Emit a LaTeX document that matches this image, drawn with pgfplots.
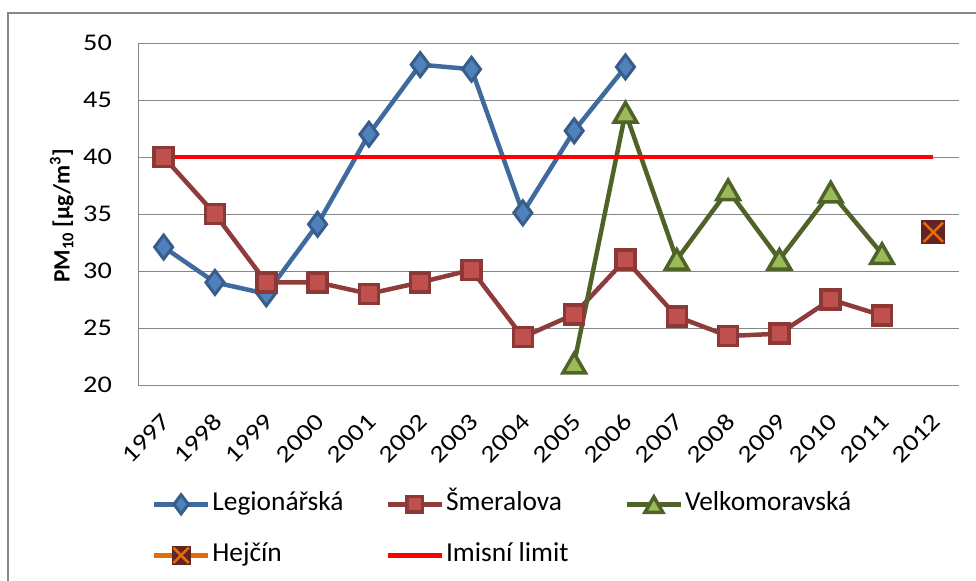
\documentclass[border=0pt]{standalone}
\usepackage{fontspec}
\setmainfont{Carlito}
\newfontfamily\tickfont{Carlito}[FakeStretch=1.18]
\usepackage{pgfplots}
\pgfplotsset{compat=1.18}

\definecolor{legline}{HTML}{3F6A9E}
\definecolor{legfill}{HTML}{4F81BD}
\definecolor{legedge}{HTML}{385D8A}
\definecolor{smline}{HTML}{8E3B39}
\definecolor{smfill}{HTML}{C0504D}
\definecolor{smedge}{HTML}{8C3836}
\definecolor{veline}{HTML}{4F6228}
\definecolor{vefill}{HTML}{9BBB59}
\definecolor{hejdark}{HTML}{632523}
\definecolor{hejorange}{HTML}{E46C0A}
\definecolor{framegray}{HTML}{868686}

% square with an orange cross, as Excel draws it
\pgfdeclareplotmark{sqx}{%
  \pgfsetfillcolor{hejdark}%
  \pgfpathrectangle{\pgfpoint{-\pgfplotmarksize}{-\pgfplotmarksize}}{\pgfpoint{2\pgfplotmarksize}{2\pgfplotmarksize}}%
  \pgfusepath{fill}%
  \pgfsetstrokecolor{hejorange}%
  \pgfsetlinewidth{2.6bp}%
  \pgfpathmoveto{\pgfpoint{-0.8\pgfplotmarksize}{-0.8\pgfplotmarksize}}%
  \pgfpathlineto{\pgfpoint{0.8\pgfplotmarksize}{0.8\pgfplotmarksize}}%
  \pgfpathmoveto{\pgfpoint{-0.8\pgfplotmarksize}{0.8\pgfplotmarksize}}%
  \pgfpathlineto{\pgfpoint{0.8\pgfplotmarksize}{-0.8\pgfplotmarksize}}%
  \pgfusepath{stroke}%
}

\begin{document}
\begin{tikzpicture}
\useasboundingbox (0,0) rectangle (976bp,-581bp);
\draw[framegray, line width=2bp] (8bp,-581bp) -- (8bp,-13bp) -- (976bp,-13bp);
\begin{axis}[
  at={(138bp,-385bp)}, anchor=south west,
  scale only axis, width=821bp, height=342bp,
  xmin=-0.5, xmax=15.5, ymin=20, ymax=50,
  xtick={0,...,15},
  xticklabels={1997,1998,1999,2000,2001,2002,2003,2004,2005,2006,2007,2008,2009,2010,2011,2012},
  ytick={20,25,30,35,40,45,50},
  /pgf/number format/assume math mode=true,
  axis x line*=bottom, axis y line*=left,
  axis line style={framegray, line width=1bp, -},
  major tick length=0pt,
  ymajorgrids, grid style={framegray, line width=1bp},
  tick label style={font=\tickfont\fontsize{24}{27}\selectfont},
  yticklabel style={anchor=east, inner sep=0pt, xshift=-26bp},
  xticklabel style={xshift=3bp, yshift=-33bp, rotate=45, anchor=east, inner sep=0pt},
  ylabel={\textbf{PM\textsubscript{10} [µg/m\textsuperscript{3}]}},
  ylabel style={at={(axis description cs:-0.093,0.494)}, anchor=center, font=\fontsize{23.5}{26}\selectfont},
  legend columns=3,
  legend cell align=left,
  legend image code/.code={\draw[mark repeat=2,mark phase=2,#1,every mark/.append style={scale=0.8}] plot coordinates {(0bp,0bp) (27bp,0bp) (54bp,0bp)};},
  legend style={at={(axis description cs:0.013,-0.30)}, anchor=north west, draw=none, fill=none,
    font=\fontsize{27.5}{30}\selectfont, row sep=22bp,
    nodes={text height=19bp, text depth=6bp},
    /tikz/column 2/.append style={column sep=40bp},
    /tikz/column 4/.append style={column sep=54bp}},
]
\addplot[legline, line width=4.5bp, mark=diamond*, mark size=12bp,
  mark options={fill=legfill, draw=legedge, line width=3bp}] coordinates {
(0,32.1)(1,29.0)(2,28.0)(3,34.1)(4,42.0)(5,48.1)(6,47.7)(7,35.1)(8,42.3)(9,47.9)};
\addlegendentry{Legionářská}
\addplot[smline, line width=4.5bp, mark=square*, mark size=9.5bp,
  mark options={fill=smfill, draw=smedge, line width=3.5bp}] coordinates {
(0,40.0)(1,35.0)(2,29.0)(3,29.0)(4,28.0)(5,29.0)(6,30.1)(7,24.2)(8,26.2)(9,31.0)(10,26.0)(11,24.3)(12,24.5)(13,27.5)(14,26.1)};
\addlegendentry{Šmeralova}
\addplot[veline, line width=4.5bp, mark=triangle*, mark size=13bp,
  mark options={fill=vefill, draw=veline, line width=3.5bp, yshift=-3bp}] coordinates {
(8,21.9)(9,43.9)(10,31.0)(11,37.1)(12,31.0)(13,36.9)(14,31.5)};
\addlegendentry{Velkomoravská}
\addplot[hejorange, line width=4.5bp, mark=sqx, mark size=12bp] coordinates {
(15,33.4)};
\addlegendentry{Hejčín}
\addplot[red, line width=4.5bp, mark=none] coordinates {
(0,40)(1,40)(2,40)(3,40)(4,40)(5,40)(6,40)(7,40)(8,40)(9,40)(10,40)(11,40)(12,40)(13,40)(14,40)(15,40)};
\addlegendentry{Imisní limit}
\end{axis}
\end{tikzpicture}
\end{document}
